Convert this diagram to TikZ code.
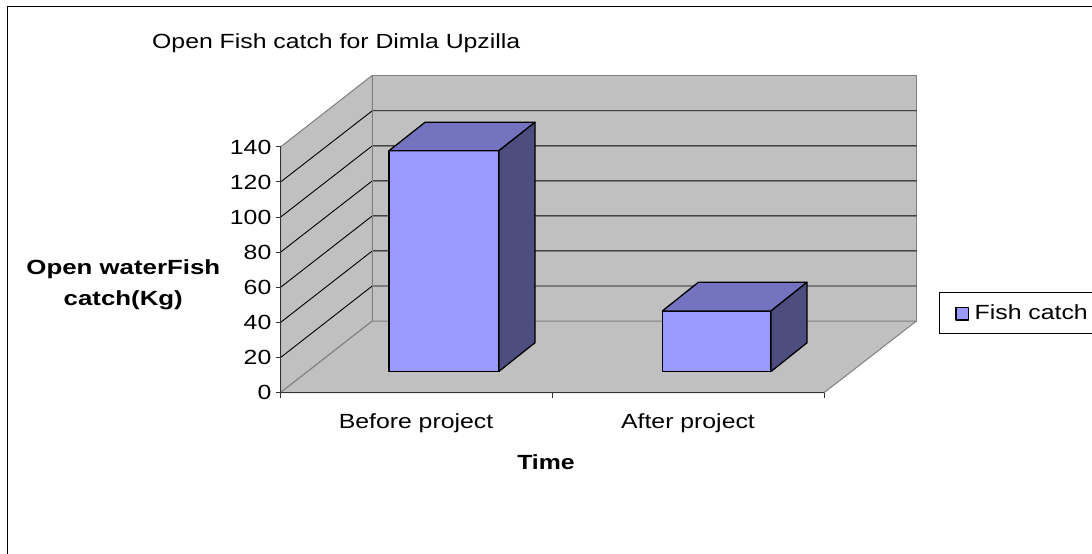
\documentclass[tikz,border=0pt]{standalone}
\usepackage{fontspec}
\usepackage{graphicx}
\setmainfont{Liberation Sans}
\definecolor{wallgray}{HTML}{C0C0C0}
\definecolor{edgegray}{HTML}{808080}
\definecolor{axisdark}{HTML}{333333}
\definecolor{barfront}{HTML}{9999FF}
\definecolor{bartop}{HTML}{7373BF}
\definecolor{barside}{HTML}{4D4D80}
\newcommand{\sx}[1]{\scalebox{1.21}[1]{#1}}
\newcommand{\sxw}[1]{\scalebox{1.26}[1]{#1}}
\tikzset{
  wall/.style={fill=wallgray, draw=edgegray, line width=1pt, line join=round},
  grid line/.style={draw=black, line width=0.9pt},
  axis line/.style={draw=axisdark, line width=1.4pt},
  barface/.style={draw=black, line width=1.3pt, line join=round},
  lbl/.style={inner sep=0pt, font=\fontsize{20.5}{24}\selectfont},
  blbl/.style={inner sep=0pt, font=\fontsize{20.5}{24}\selectfont\bfseries},
}
\begin{document}
\begin{tikzpicture}[x=1pt,y=-1pt]
\useasboundingbox (0,0) rectangle (1092,554);
% outer chart border
\draw[line width=1.3pt] (7.5,570) -- (7.5,6.5) -- (1110,6.5);
% walls and floor
\draw[wall] (372.3,75.3) rectangle (916.5,321);
\draw[wall] (280.7,392.5) -- (280.7,146.8) -- (372.3,75.3) -- (372.3,321) -- cycle;
\draw[wall] (280.7,392.5) -- (824.3,392.5) -- (916.5,321) -- (372.3,321) -- cycle;
% gridlines
\foreach \v in {20,40,...,120}{
  \draw[grid line] (280.7,{392.5-\v*1.755}) -- (372.3,{321-\v*1.752}) -- (916.5,{321-\v*1.752});
}
\draw[edgegray, line width=1pt] (372.3,75.3) -- (372.3,321);
% axes
\draw[axis line] (280.7,146.8) -- (280.7,392.5) -- (824.3,392.5);
\foreach \v in {0,20,...,140}{
  \draw[axisdark, line width=1pt] (275.5,{392.5-\v*1.755}) -- (280.7,{392.5-\v*1.755});
}
\foreach \xx in {280.7,552.5,824.3}{
  \draw[axisdark, line width=1pt] (\xx,392.5) -- (\xx,397.5);
}
% bar 1 (Before project)
\draw[barface, fill=barfront] (389,371.3) rectangle (499,150.7);
\draw[barface, fill=bartop] (389,150.7) -- (425,122.3) -- (535,122.3) -- (499,150.7) -- cycle;
\draw[barface, fill=barside] (499,150.7) -- (535,122.3) -- (535,342.7) -- (499,371.3) -- cycle;
% bar 2 (After project)
\draw[barface, fill=barfront] (662.3,371.5) rectangle (771,311);
\draw[barface, fill=bartop] (662.3,311) -- (698.3,282.3) -- (807,282.3) -- (771,311) -- cycle;
\draw[barface, fill=barside] (771,311) -- (807,282.3) -- (807,342.8) -- (771,371.5) -- cycle;
% y tick labels
\foreach \v in {0,20,...,140}{
  \node[lbl, anchor=base east] (ytick\v) at (271.5,{392.5-\v*1.755+7.4}) {\sx{\v}};
}
% category labels
\node[lbl, anchor=base] (cat1) at (416,428.3) {\sx{Before project}};
\node[lbl, anchor=base] (cat2) at (688,428.3) {\sx{After project}};
% axis titles
\node[blbl, anchor=base] (xtitle) at (546,469) {\sx{Time}};
\node[blbl, anchor=base] (ytitle1) at (123.3,274) {\sxw{Open waterFish}};
\node[blbl, anchor=base] (ytitle2) at (123.3,305) {\sxw{catch(Kg)}};
% chart title
\node[lbl, anchor=base west] (title) at (152,48.3) {\sx{Open Fish catch for Dimla Upzilla}};
% legend
\draw[line width=1pt, fill=white] (939.7,292.7) rectangle (1110,333.7);
\draw[barface, fill=barfront] (956,307.7) rectangle (968.7,320);
\node[lbl, anchor=base west] (legend) at (974.5,319.3) {\sx{Fish catch}};
\end{tikzpicture}
\end{document}
